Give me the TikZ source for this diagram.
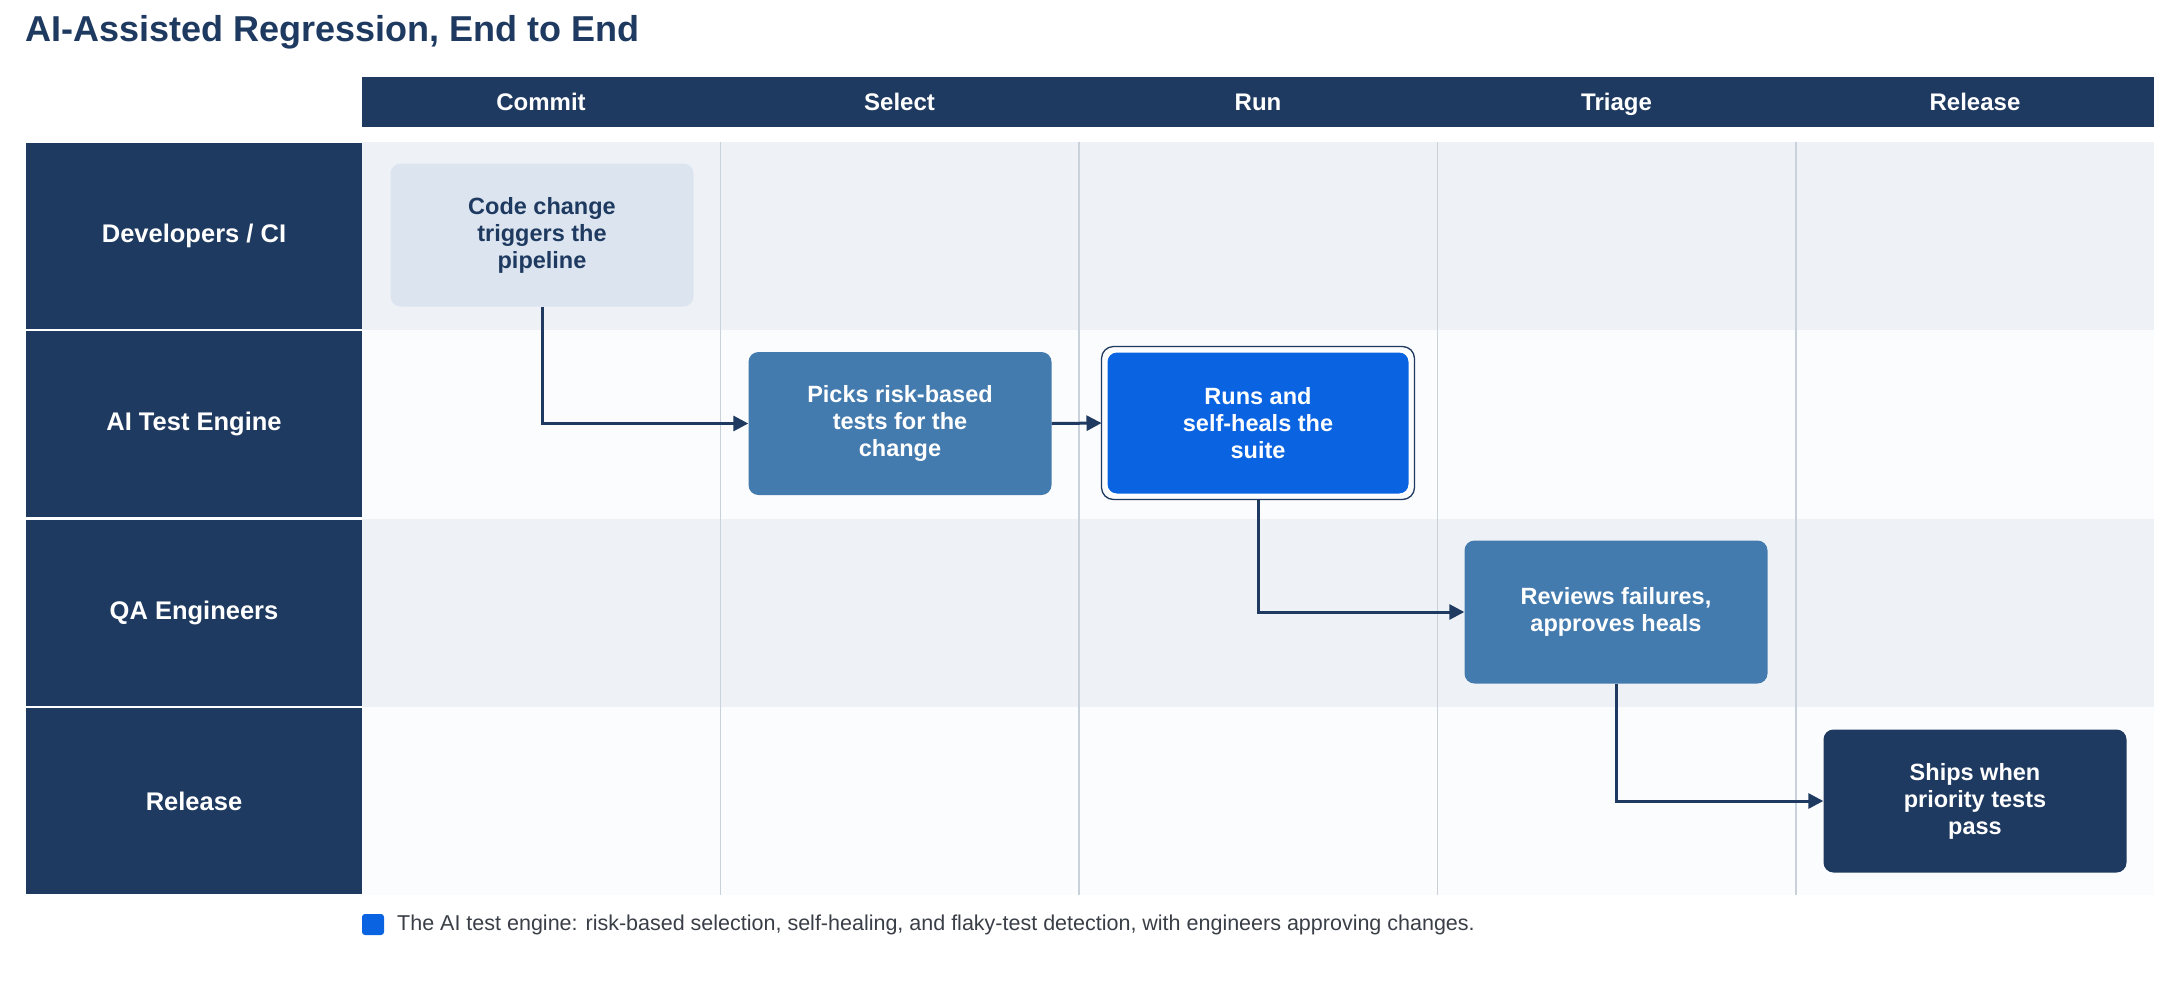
\documentclass[tikz,border=0pt]{standalone}
\usepackage{fontspec}
\setmainfont{Liberation Sans}
\usetikzlibrary{arrows.meta,calc}
\definecolor{navy}{HTML}{1F3A60}
\definecolor{steel}{HTML}{447BAE}
\definecolor{brightblue}{HTML}{0A63E1}
\definecolor{paleblue}{HTML}{DCE5EF}
\definecolor{laneA}{HTML}{EEF2F6}
\definecolor{laneB}{HTML}{FBFCFD}
\definecolor{divider}{HTML}{C9D1DB}
\definecolor{legendtext}{HTML}{3A3F47}
\tikzset{
  colhead/.style={text=white, anchor=base, inner sep=0pt, font=\fontsize{24}{29}\selectfont\bfseries},
  lanehead/.style={fill=navy, text=white, minimum width=336pt, minimum height=186pt, inner sep=0pt, font=\fontsize{25.5}{30}\selectfont\bfseries},
  stepbox/.style={rounded corners=10pt, minimum width=303pt, minimum height=143pt, align=center, inner sep=0pt, text=white, font=\fontsize{23.5}{27}\selectfont\bfseries},
  flow/.style={draw=navy, line width=3pt, -{Triangle[length=15pt,width=15pt]}},
}
\begin{document}
\begin{tikzpicture}[x=1pt,y=-1pt]
\useasboundingbox (0,0) rectangle (2182,994);
\fill[white] (0,0) rectangle (2182,994);

% title
\node[anchor=west, text=navy, font=\fontsize{36}{42}\selectfont\bfseries, inner sep=0pt] (title) at (25,32) {AI-Assisted Regression, End to End};

% column header bar
\fill[navy] (362,76.5) rectangle (2154,126.5);
\node[colhead] (hcommit) at (541,110) {Commit};
\node[colhead] (hselect) at (899.5,110) {Select};
\node[colhead] (hrun) at (1258,110) {Run};
\node[colhead] (htriage) at (1616.5,110) {Triage};
\node[colhead] (hrelease) at (1975,110) {Release};

% lane backgrounds
\fill[laneA] (362,142) rectangle (2154,330.25);
\fill[laneB] (362,330.25) rectangle (2154,518.5);
\fill[laneA] (362,518.5) rectangle (2154,706.75);
\fill[laneB] (362,706.75) rectangle (2154,895);

% column dividers
\foreach \x in {720.5,1079,1437.5,1796}
  \draw[divider, line width=1.3pt] (\x,142) -- (\x,895);

% lane headers
\node[lanehead] (ldev) at (194,235.5) {Developers / CI};
\node[lanehead] (lai) at (194,424) {AI Test Engine};
\node[lanehead] (lqa) at (194,612.5) {QA Engineers};
\node[lanehead] (lrel) at (194,801) {Release};

% step boxes
\node[stepbox, fill=paleblue, text=navy] (code) at (542,235) {Code change\\triggers the\\pipeline};
\node[stepbox, fill=steel] (pick) at (900,423.5) {Picks risk-based\\tests for the\\change};
\node[stepbox, fill=brightblue, draw=white, line width=2pt] (run) at (1258,423) {Runs and\\self-heals the\\suite};
\draw[navy, line width=1.3pt, rounded corners=12pt] ($(run.north west)+(-4pt,4pt)$) rectangle ($(run.south east)+(4pt,-4pt)$);
\node[stepbox, fill=steel] (rev) at (1616,612) {Reviews failures,\\approves heals};
\node[stepbox, fill=navy] (ship) at (1975,801) {Ships when\\priority tests\\pass};

% connectors
\draw[flow] (code.south) |- (pick.west);
\draw[flow, shorten >=4pt] (pick.east) -- (run.west);
\draw[flow, shorten <=4pt] (run.south) |- (rev.west);
\draw[flow] (rev.south) |- (ship.west);

% legend
\fill[brightblue, rounded corners=3pt] (362,914) rectangle (384,935);
\node[anchor=west, inner sep=0pt, text=legendtext, font=\fontsize{21.5}{26}\selectfont] (legend) at (397,925) {The AI test engine: risk-based selection, self-healing, and flaky-test detection, with engineers approving changes.};
\end{tikzpicture}
\end{document}
